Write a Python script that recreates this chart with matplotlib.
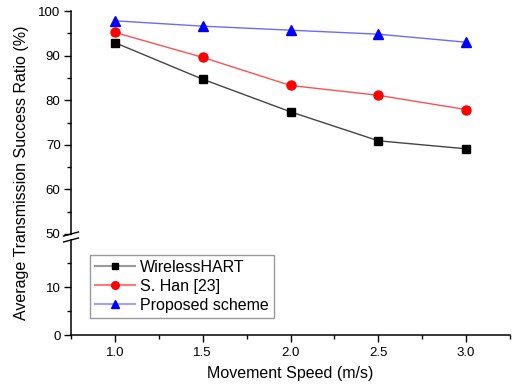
import matplotlib
matplotlib.use("Agg")
import matplotlib.pyplot as plt
from matplotlib.lines import Line2D
from matplotlib.ticker import MultipleLocator

plt.rcParams["font.family"] = ["Liberation Sans", "DejaVu Sans"]

speed = [1.0, 1.5, 2.0, 2.5, 3.0]
wirelesshart = [92.9, 84.7, 77.4, 70.9, 69.1]
s_han = [95.2, 89.6, 83.3, 81.1, 77.9]
proposed = [97.8, 96.6, 95.7, 94.8, 93.0]

labels = ["WirelessHART", "S. Han [23]", "Proposed scheme"]

W, H = 513, 388
fig = plt.figure(figsize=(W / 100, H / 100), dpi=100)

left, right = 71, 510
ax_top = fig.add_axes([left / W, (H - 234) / H, (right - left) / W, (234 - 11) / H])
ax_bot = fig.add_axes([left / W, (H - 335) / H, (right - left) / W, (335 - 240) / H])

# values, line colour, marker colour, marker, size, legend line colour
series = [
    (wirelesshart, "#444444", "black", "s", 6, "#9a9a9a"),
    (s_han, "#ff5050", "red", "o", 6.5, "#ff7a7a"),
    (proposed, "#6a6aff", "blue", "^", 7, "#a0a0ff"),
]
handles = []
for vals, lc, mc, mk, ms, legc in series:
    ax_top.plot(speed, vals, color=lc, lw=1.0, marker=mk, ms=ms,
                mfc=mc, mec=mc, clip_on=False)
    handles.append(Line2D([], [], color=legc, lw=1.5, marker=mk, ms=ms - 1,
                          mfc=mc, mec=mc))

for ax in (ax_top, ax_bot):
    ax.set_xlim(0.75, 3.25)
    ax.spines["top"].set_visible(False)
    ax.spines["right"].set_visible(False)
    ax.tick_params(which="major", direction="out", length=5, width=1, labelsize=9.5, pad=2.5)
    ax.tick_params(which="minor", direction="out", length=3, width=1)
    ax.spines["left"].set_linewidth(1.1)
    ax.spines["bottom"].set_linewidth(1.1)

ax_top.set_ylim(50, 100)
ax_top.yaxis.set_major_locator(MultipleLocator(10))
ax_top.yaxis.set_minor_locator(MultipleLocator(5))
ax_top.spines["bottom"].set_visible(False)
ax_top.tick_params(axis="x", which="both", bottom=False, labelbottom=False)

ax_bot.set_ylim(0, 20 * 95 / 95.4)
ax_bot.yaxis.set_major_locator(MultipleLocator(10))
ax_bot.yaxis.set_minor_locator(MultipleLocator(5))
ax_bot.xaxis.set_major_locator(MultipleLocator(0.5))
ax_bot.xaxis.set_minor_locator(MultipleLocator(0.25))
ax_bot.xaxis.set_major_formatter(plt.FormatStrFormatter("%.1f"))
ax_bot.tick_params(axis="x", which="major", pad=4)
ax_bot.set_xlabel("Movement Speed (m/s)", fontsize=11.5, labelpad=5)

# axis break marks
kw = dict(color="black", lw=1.0, clip_on=False)
ax_top.plot([-0.017, 0.017], [-0.009, 0.009], transform=ax_top.transAxes, **kw)
ax_bot.plot([-0.017, 0.017], [0.979, 1.021], transform=ax_bot.transAxes, **kw)

fig.text(22 / W, 1 - 173 / H, "Average Transmission Success Ratio (%)",
         rotation=90, ha="center", va="center", fontsize=11.5)

leg = ax_bot.legend(handles, labels, loc="upper left", bbox_to_anchor=(0.043, 0.84),
                    fontsize=11.5, frameon=True, fancybox=False, handlelength=2.5,
                    handletextpad=0.35, borderpad=0.3, labelspacing=0.25,
                    borderaxespad=0)
leg.get_frame().set_edgecolor("#808080")
leg.get_frame().set_linewidth(1.0)

fig.savefig("out.png", dpi=100)
